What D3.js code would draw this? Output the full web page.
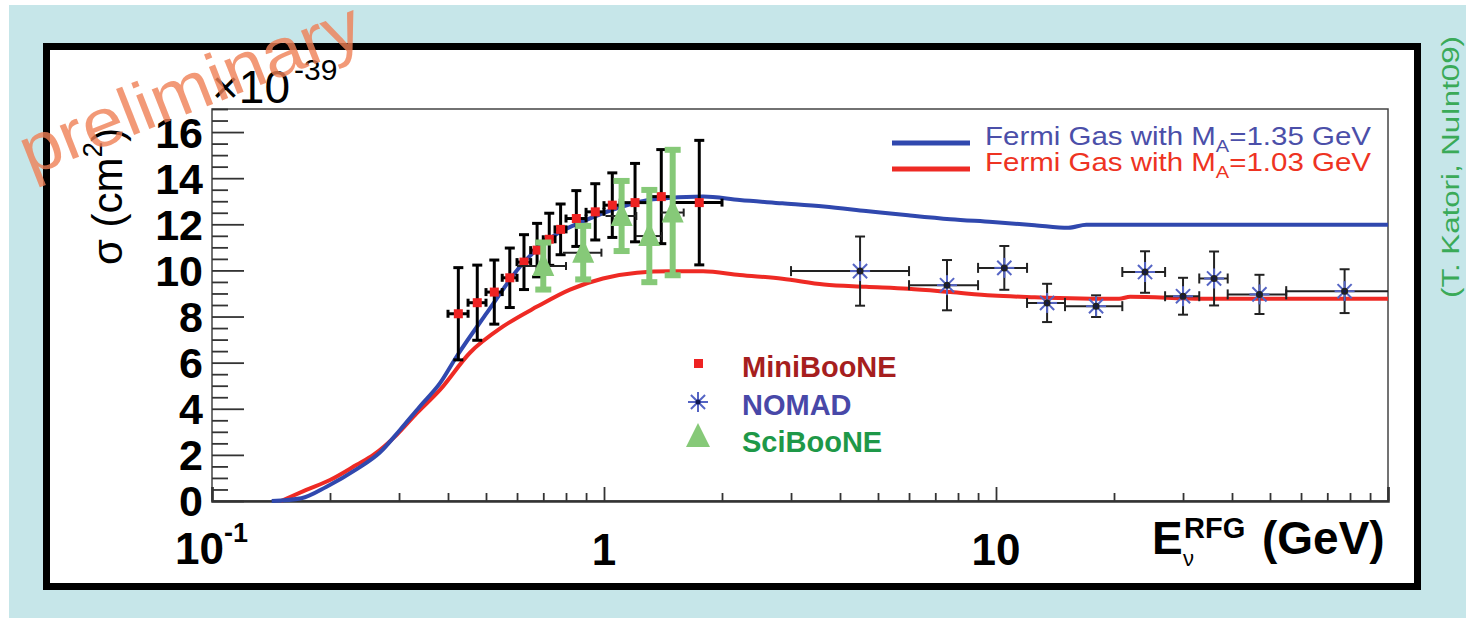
<!DOCTYPE html>
<html>
<head>
<meta charset="utf-8">
<script src="https://cdn.jsdelivr.net/npm/d3@7/dist/d3.min.js"></script>
<style>
  html, body { margin: 0; padding: 0; background: #fff; }
  svg { display: block; }
  text { font-family: "Liberation Sans", Arial, Helvetica, sans-serif; }
</style>
</head>
<body>
<svg id="chart" width="1466" height="618"></svg>
<script>
// Courbes Fermi Gas (E en GeV, sigma en 1e-39 cm2)
const blueE = [0.142, 0.169, 0.196, 0.234, 0.268, 0.302, 0.339, 0.382, 0.422, 0.503, 0.611, 0.741, 0.905, 1.099, 1.334, 1.789, 2.22, 2.85, 3.64, 4.66, 5.97, 7.65, 9.8, 12.55, 15.3, 17, 100];
const blueS = [0, 0.12, 0.62, 1.38, 2.1, 3.09, 4.1, 5.12, 6.3, 8.17, 10.17, 11.48, 12.2, 12.74, 13.09, 13.2, 13.05, 12.91, 12.77, 12.58, 12.39, 12.22, 12.1, 11.96, 11.85, 11.98, 11.98];
const redE = [0.15, 0.174, 0.2, 0.234, 0.258, 0.296, 0.333, 0.382, 0.455, 0.553, 0.675, 0.819, 0.994, 1.214, 1.473, 1.789, 2.22, 2.85, 3.64, 4.66, 5.97, 7.65, 9.8, 12.55, 20.6, 22, 33.6, 100];
const redS = [0, 0.48, 0.91, 1.57, 2.0, 2.87, 3.81, 4.83, 6.43, 7.57, 8.43, 9.17, 9.65, 9.9, 9.96, 9.96, 9.8, 9.64, 9.39, 9.29, 9.2, 9.06, 8.91, 8.84, 8.77, 8.86, 8.77, 8.77];

// MiniBooNE
const mbLo = [0.4, 0.45, 0.5, 0.55, 0.6, 0.65, 0.7, 0.75, 0.8, 0.9, 1.0, 1.1, 1.3, 1.5];
const mbHi = [0.45, 0.5, 0.55, 0.6, 0.65, 0.7, 0.75, 0.8, 0.9, 1.0, 1.1, 1.3, 1.5, 2.0];
const mbS = [8.12, 8.6, 9.06, 9.68, 10.36, 10.88, 11.35, 11.78, 12.25, 12.54, 12.83, 12.94, 13.2, 12.94];
const mbErr = [2.0, 1.63, 1.39, 1.29, 1.19, 1.16, 1.13, 1.1, 1.21, 1.22, 1.4, 1.7, 2.04, 2.7];

// NOMAD
const noLo = [3, 6, 9, 12, 15, 21, 27, 33, 39, 55];
const noHi = [6, 9, 12, 15, 21, 27, 33, 39, 55, 100];
const noS = [9.97, 9.36, 10.11, 8.59, 8.45, 9.93, 8.88, 9.65, 8.96, 9.1];
const noErr = [1.5, 1.09, 0.95, 0.83, 0.47, 0.9, 0.8, 1.17, 0.85, 0.95];

// SciBooNE
const sbE = [0.70, 0.885, 1.109, 1.305, 1.497];
const sbS = [10.19, 10.77, 12.36, 11.49, 12.51];
const sbErr = [1.02, 1.16, 1.52, 2.0, 2.72];
const sbXErr = [0.1, 0.1, 0.1, 0.1, 0.1];

const yMajor = [0, 2, 4, 6, 8, 10, 12, 14, 16];
const xMajor = [0.1, 1, 10, 100];

const svg = d3.select("#chart");

// fond bleu + cadre noir
svg.append("rect").attr("x", 9).attr("y", 5).attr("width", 1457).attr("height", 613).attr("fill", "#c6e6e9");
svg.append("rect").attr("x", 46.5).attr("y", 46.5).attr("width", 1371).attr("height", 540)
  .attr("fill", "#fff").attr("stroke", "#000").attr("stroke-width", 7);

const x = d3.scaleLog().domain([0.1, 100]).range([212, 1388]);
const y = d3.scaleLinear().domain([0, 17]).range([501, 109]);

// cadre du graphe
svg.append("rect").attr("x", 212).attr("y", 109).attr("width", 1176).attr("height", 392)
  .attr("fill", "none").attr("stroke", "#444").attr("stroke-width", 1.5);

// axes
const yMinor = d3.range(0, 17.01, 0.5).filter(v => v % 2 !== 0);
svg.append("g").attr("transform", "translate(212,0)")
  .call(d3.axisLeft(y).tickValues(yMinor).tickSize(-16).tickFormat(""))
  .call(g => g.select(".domain").remove())
  .call(g => g.selectAll("line").attr("stroke", "#333").attr("stroke-width", 1.8));
svg.append("g").attr("transform", "translate(212,0)")
  .call(d3.axisLeft(y).tickValues(yMajor).tickSize(-32).tickFormat(""))
  .call(g => g.select(".domain").remove())
  .call(g => g.selectAll("line").attr("stroke", "#333").attr("stroke-width", 1.8));

const xMinor = [];
[0.1, 1, 10].forEach(d => { for (let k = 2; k <= 9; k++) xMinor.push(d * k); });
svg.append("g").attr("transform", "translate(0,501)")
  .call(d3.axisBottom(x).tickValues(xMinor).tickSize(-8).tickFormat(""))
  .call(g => g.select(".domain").remove())
  .call(g => g.selectAll("line").attr("stroke", "#333").attr("stroke-width", 1.8));
svg.append("g").attr("transform", "translate(0,501)")
  .call(d3.axisBottom(x).tickValues(xMajor).tickSize(-14).tickFormat(""))
  .call(g => g.select(".domain").attr("stroke", "#333").attr("stroke-width", 2.5))
  .call(g => g.selectAll("line").attr("stroke", "#333").attr("stroke-width", 1.8));

// libellés y
svg.append("g").selectAll("text").data(yMajor).join("text")
  .attr("x", 203).attr("y", d => y(d)).attr("dy", "0.36em")
  .attr("text-anchor", "end").attr("font-size", 43).attr("font-weight", "bold")
  .text(d => d);

// libellés x
const xl = svg.append("g").attr("font-weight", "bold").attr("font-size", 44);
const t01 = xl.append("text").attr("x", x(0.1) - 37).attr("y", 564);
t01.append("tspan").text("10");
t01.append("tspan").attr("font-size", 27).attr("dy", -22).text("-1");
xl.append("text").attr("x", x(1)).attr("y", 565).attr("text-anchor", "middle").text("1");
xl.append("text").attr("x", x(10)).attr("y", 565).attr("text-anchor", "middle").text("10");

// titre x : E_nu^RFG (GeV)
const xt = svg.append("g").attr("font-weight", "bold");
xt.append("text").attr("x", 1152).attr("y", 554).attr("font-size", 46).text("E");
xt.append("text").attr("x", 1184).attr("y", 538).attr("font-size", 29).text("RFG");
xt.append("text").attr("x", 1183).attr("y", 566).attr("font-size", 22).attr("font-weight", "normal").text("ν");
xt.append("text").attr("x", 1262).attr("y", 554).attr("font-size", 46).text("(GeV)");

// x10^-39
const mult = svg.append("text").attr("x", 212).attr("y", 103).attr("font-size", 46);
mult.append("tspan").text("×10");
mult.append("tspan").attr("font-size", 30).attr("dy", -23).attr("dx", 4).text("-39");

// titre y
const yt = svg.append("text").attr("transform", "translate(122,265) rotate(-90)").attr("font-size", 42);
yt.append("tspan").text("σ (cm");
yt.append("tspan").attr("font-size", 28).attr("dy", -20).text("2");
yt.append("tspan").attr("dy", 20).text(")");

// courbes
const line = d3.line().x(d => x(d[0])).y(d => y(d[1])).curve(d3.curveMonotoneX);
svg.append("path").datum(d3.zip(redE, redS)).attr("d", line)
  .attr("fill", "none").attr("stroke", "#ee2a24").attr("stroke-width", 4);
svg.append("path").datum(d3.zip(blueE, blueS)).attr("d", line)
  .attr("fill", "none").attr("stroke", "#3048ae").attr("stroke-width", 4);

// MiniBooNE
const mb = svg.append("g").attr("stroke", "#000").attr("stroke-width", 3);
mbS.forEach((s, i) => {
  const cx = x((mbLo[i] + mbHi[i]) / 2), cy = y(s);
  mb.append("line").attr("x1", cx).attr("x2", cx).attr("y1", y(s - mbErr[i])).attr("y2", y(s + mbErr[i]));
  mb.append("line").attr("x1", cx - 5).attr("x2", cx + 5).attr("y1", y(s - mbErr[i])).attr("y2", y(s - mbErr[i]));
  mb.append("line").attr("x1", cx - 5).attr("x2", cx + 5).attr("y1", y(s + mbErr[i])).attr("y2", y(s + mbErr[i]));
  mb.append("line").attr("x1", x(mbLo[i])).attr("x2", x(mbHi[i])).attr("y1", cy).attr("y2", cy);
  mb.append("line").attr("x1", x(mbLo[i])).attr("x2", x(mbLo[i])).attr("y1", cy - 4).attr("y2", cy + 4);
  mb.append("line").attr("x1", x(mbHi[i])).attr("x2", x(mbHi[i])).attr("y1", cy - 4).attr("y2", cy + 4);
});
mb.selectAll("rect").data(mbS).join("rect")
  .attr("x", (d, i) => x((mbLo[i] + mbHi[i]) / 2) - 4.5).attr("y", d => y(d) - 4.5)
  .attr("width", 9).attr("height", 9).attr("fill", "#ee2222").attr("stroke", "none");

// NOMAD
const star = (g, cx, cy, r) => {
  for (let a = 0; a < 4; a++) {
    const ang = a * Math.PI / 4;
    g.append("line").attr("x1", cx - r * Math.cos(ang)).attr("x2", cx + r * Math.cos(ang))
      .attr("y1", cy - r * Math.sin(ang)).attr("y2", cy + r * Math.sin(ang))
      .attr("stroke", "#5464c4").attr("stroke-width", 2);
  }
  g.append("circle").attr("cx", cx).attr("cy", cy).attr("r", 2.5).attr("fill", "#101850");
};
const no = svg.append("g").attr("stroke", "#222").attr("stroke-width", 2);
noS.forEach((s, i) => {
  const cx = x((noLo[i] + noHi[i]) / 2), cy = y(s);
  no.append("line").attr("x1", cx).attr("x2", cx).attr("y1", y(s - noErr[i])).attr("y2", y(s + noErr[i]));
  no.append("line").attr("x1", cx - 5).attr("x2", cx + 5).attr("y1", y(s - noErr[i])).attr("y2", y(s - noErr[i]));
  no.append("line").attr("x1", cx - 5).attr("x2", cx + 5).attr("y1", y(s + noErr[i])).attr("y2", y(s + noErr[i]));
  no.append("line").attr("x1", x(noLo[i])).attr("x2", Math.min(x(noHi[i]), 1388)).attr("y1", cy).attr("y2", cy);
  no.append("line").attr("x1", x(noLo[i])).attr("x2", x(noLo[i])).attr("y1", cy - 5).attr("y2", cy + 5);
  if (noHi[i] < 100) no.append("line").attr("x1", x(noHi[i])).attr("x2", x(noHi[i])).attr("y1", cy - 5).attr("y2", cy + 5);
  star(no, cx, cy, 10);
});

// SciBooNE
const sb = svg.append("g");
sbS.forEach((s, i) => {
  const cx = x(sbE[i]), cy = y(s);
  sb.append("line").attr("x1", x(sbE[i] - sbXErr[i])).attr("x2", x(sbE[i] + sbXErr[i])).attr("y1", cy).attr("y2", cy)
    .attr("stroke", "#222").attr("stroke-width", 2);
  sb.append("line").attr("x1", x(sbE[i] + sbXErr[i])).attr("x2", x(sbE[i] + sbXErr[i])).attr("y1", cy - 4).attr("y2", cy + 4)
    .attr("stroke", "#222").attr("stroke-width", 2);
  const g = sb.append("g").attr("stroke", "#86c978").attr("stroke-width", 6);
  g.append("line").attr("x1", cx).attr("x2", cx).attr("y1", y(s - sbErr[i])).attr("y2", y(s + sbErr[i]));
  g.append("line").attr("x1", cx - 8).attr("x2", cx + 8).attr("y1", y(s - sbErr[i])).attr("y2", y(s - sbErr[i]));
  g.append("line").attr("x1", cx - 8).attr("x2", cx + 8).attr("y1", y(s + sbErr[i])).attr("y2", y(s + sbErr[i]));
  sb.append("path").attr("d", `M${cx},${cy - 14}L${cx + 11},${cy + 10}L${cx - 11},${cy + 10}Z`).attr("fill", "#86c978");
});

// légende haut droite
const leg = svg.append("g");
leg.append("line").attr("x1", 892).attr("x2", 970).attr("y1", 143).attr("y2", 143).attr("stroke", "#3048ae").attr("stroke-width", 5);
leg.append("line").attr("x1", 892).attr("x2", 970).attr("y1", 169).attr("y2", 169).attr("stroke", "#ee2a24").attr("stroke-width", 5);
[["1.35", 145, "#4b4fa9"], ["1.03", 171, "#ee3322"]].forEach(([v, by, c]) => {
  const t = leg.append("text").attr("x", 985).attr("y", by).attr("font-size", 25).attr("fill", c)
    .attr("textLength", 386).attr("lengthAdjust", "spacingAndGlyphs");
  t.append("tspan").text("Fermi Gas with M");
  t.append("tspan").attr("font-size", 17).attr("dy", 7).text("A");
  t.append("tspan").attr("dy", -7).text("=" + v + " GeV");
});

// légende centrale
const lg2 = svg.append("g").attr("font-weight", "bold").attr("font-size", 29);
lg2.append("rect").attr("x", 694).attr("y", 359).attr("width", 9).attr("height", 9).attr("fill", "#ee2222");
lg2.append("text").attr("x", 742).attr("y", 377).attr("fill", "#a61e1e").text("MiniBooNE");
star(lg2, 698, 402, 10);
lg2.append("text").attr("x", 742).attr("y", 415).attr("fill", "#4848a8").text("NOMAD");
lg2.append("path").attr("d", "M698,423L710,447L686,447Z").attr("fill", "#86c978");
lg2.append("text").attr("x", 742).attr("y", 452).attr("fill", "#1e9848").text("SciBooNE");

// source à droite
svg.append("text").attr("transform", "translate(1459,298) rotate(-90)")
  .attr("font-size", 23).attr("fill", "#3aaa58")
  .attr("textLength", 262).attr("lengthAdjust", "spacingAndGlyphs")
  .text("(T. Katori, NuInt09)");

// filigrane
svg.append("text").attr("transform", "translate(30,176) rotate(-21.5)")
  .attr("font-size", 68).attr("fill", "#ef7f55").attr("fill-opacity", 0.8)
  .attr("textLength", 362).attr("lengthAdjust", "spacingAndGlyphs")
  .text("preliminary");
</script>
</body>
</html>
